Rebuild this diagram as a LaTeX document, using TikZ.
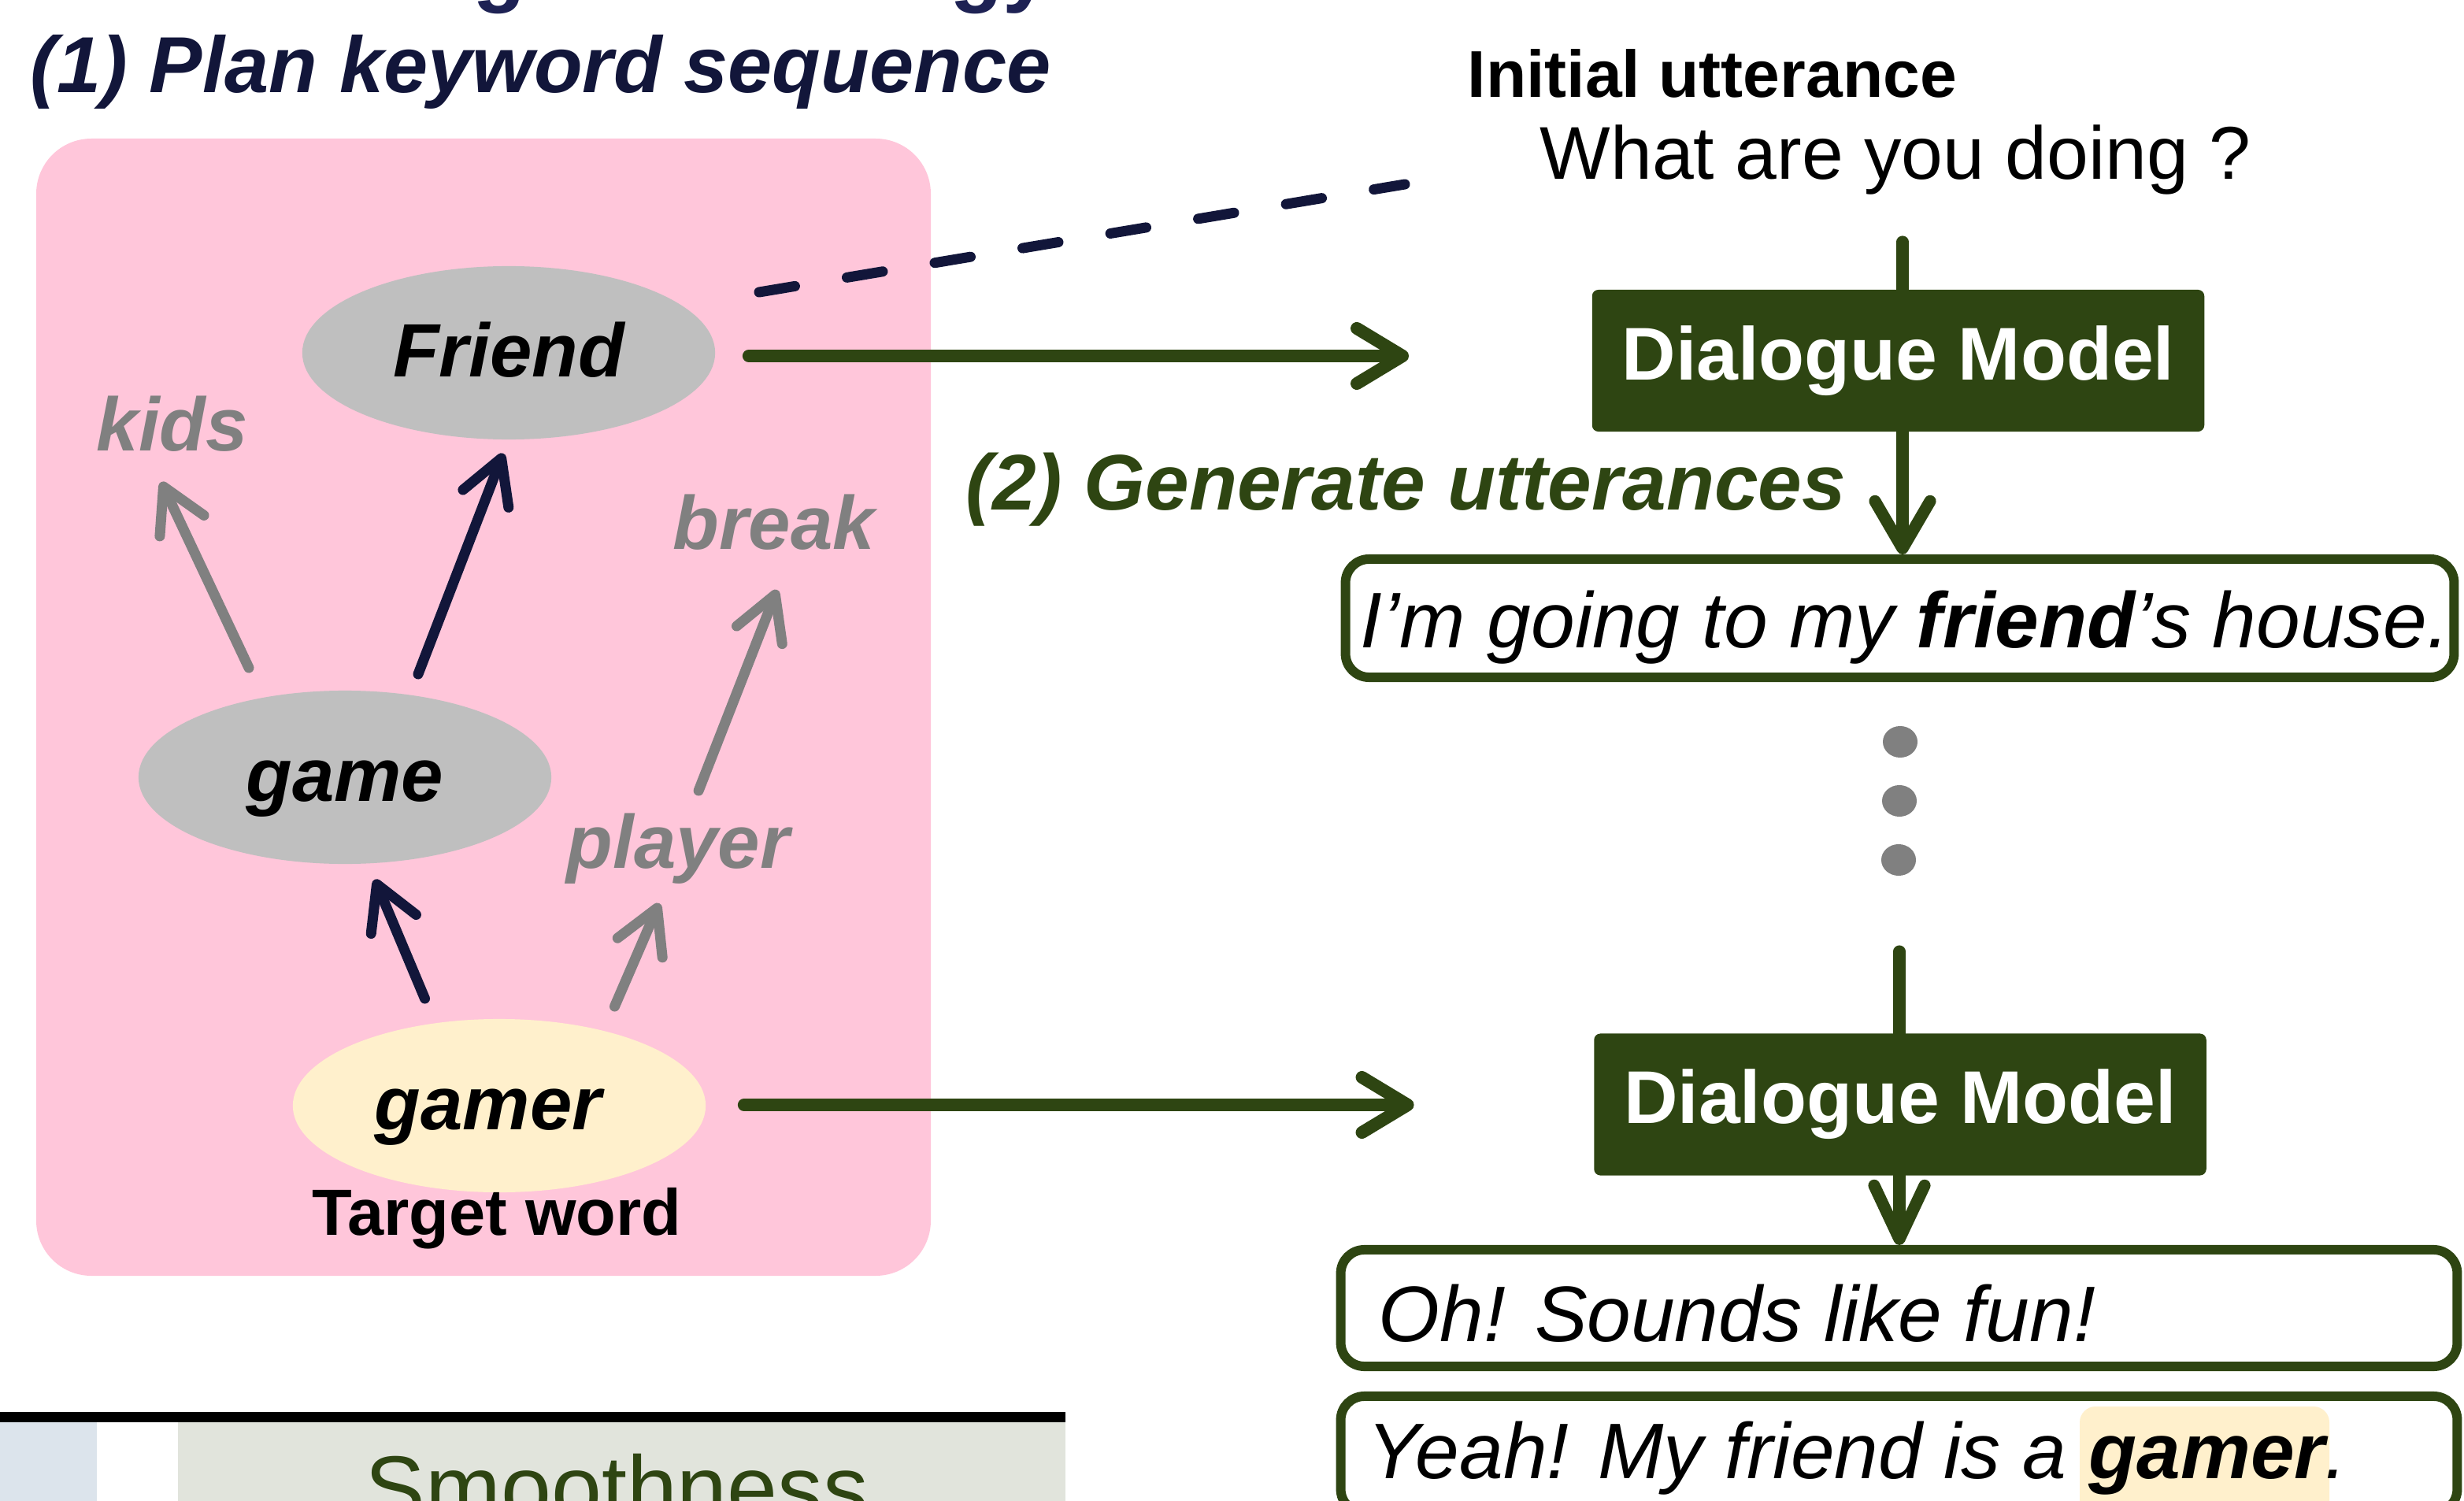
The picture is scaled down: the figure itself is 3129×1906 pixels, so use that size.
\documentclass[tikz,border=0pt]{standalone}
\usepackage{fontspec}
\setmainfont{Liberation Sans}
\usetikzlibrary{arrows.meta,shapes.geometric,calc}
\definecolor{navy}{RGB}{18,22,58}
\definecolor{titlenavy}{RGB}{30,34,84}
\definecolor{dgreen}{RGB}{46,69,18}
\definecolor{midgray}{RGB}{128,128,128}
\definecolor{ellgray}{RGB}{191,191,191}
\definecolor{cream}{RGB}{255,240,204}
\definecolor{pinkbg}{RGB}{255,198,218}
\definecolor{cellblue}{RGB}{220,228,236}
\definecolor{cellgreen}{RGB}{225,228,220}
\newcommand{\myfs}[1]{\fontsize{#1}{#1}\selectfont}
\begin{document}
\begin{tikzpicture}[x=0.01cm,y=-0.01cm,
  kw/.style={ellipse, minimum width=5.24cm, minimum height=2.2cm, inner sep=0pt,
    text height=0.6cm, text depth=0pt, font=\myfs{27.3}\bfseries\itshape},
  graylabel/.style={anchor=base west, inner sep=0pt, text=midgray, font=\myfs{27.3}\bfseries\itshape},
  plain/.style={anchor=base west, inner sep=0pt},
  navyarrow/.style={draw=navy, line width=3.7pt, line cap=round,
    -{Straight Barb[length=0.55cm,width=0.62cm,round]}},
  grayarrow/.style={draw=midgray, line width=3.7pt, line cap=round,
    -{Straight Barb[length=0.55cm,width=0.62cm,round]}},
  greenarrow/.style={draw=dgreen, line width=4.55pt, line cap=round,
    -{Straight Barb[length=0.58cm,width=0.7cm,round]}},
  dashline/.style={draw=navy, line width=3.7pt, line cap=round, dash pattern=on 0.46cm off 0.67cm},
  vline/.style={draw=dgreen, line width=4.3pt, line cap=round},
  dmbox/.style={fill=dgreen, rounded corners=0.08cm, minimum width=7.77cm, minimum height=1.8cm,
    inner sep=0pt, text=white, font=\myfs{27}\bfseries},
  uttbox/.style={draw=dgreen, line width=3.41pt, rounded corners=0.3cm, fill=white, inner sep=0pt},
  utttext/.style={anchor=base west, inner sep=0pt, font=\myfs{28.45}\itshape},
  dotnode/.style={ellipse, fill=midgray, minimum width=0.44cm, minimum height=0.4cm, inner sep=0pt}
]
\useasboundingbox (0,0) rectangle (3129,1906);
\clip (0,0) rectangle (3129,1906);

% title fragments (cut off at the top)
\node[plain, text=titlenavy, font=\myfs{31.3}\bfseries] (tfrag1) at (600,-5) {g};
\node[plain, text=titlenavy, font=\myfs{31.3}\bfseries] (tfrag2) at (1206,-5) {gy};

% heading 1
\node[plain, text=navy, font=\myfs{28.7}\bfseries\itshape] (head1) at (38,118) {(1) Plan keyword sequence};

% pink panel
\fill[pinkbg, rounded corners=0.7cm] (46,176) rectangle (1182,1620);

% keyword ellipses
\node[kw, fill=ellgray] (friend) at (646,448) {Friend};
\node[kw, fill=ellgray] (game) at (438,987) {game};
\node[kw, fill=cream] (gamer) at (634,1404) {gamer\hspace*{0.28cm}};
\node[anchor=base, inner sep=0pt, font=\myfs{23.6}\bfseries] (target) at (631,1568) {Target word};

% gray keywords
\node[graylabel] (kids) at (122,572) {kids};
\node[graylabel] (brk) at (854,697) {break};
\node[graylabel] (player) at (719,1102) {player};

% arrows in panel
\draw[navyarrow] ($(game.center)+(93,-131)$) -- ($(friend.south)+(-7,17)$);
\draw[navyarrow] ($(gamer.center)+(-94.5,-136)$) -- ($(game.south)+(38,19)$);
\draw[grayarrow] ($(game.center)+(-122,-139)$) -- ($(kids.base)+(-14,40)$);
\draw[grayarrow] ($(player.base)+(26,-98)$) -- ($(brk.base)+(4,52)$);
\draw[grayarrow] ($(gamer.center)+(146.5,-126)$) -- ($(player.base)+(-24,45)$);

% right side texts
\node[plain, font=\myfs{23.9}\bfseries] (initial) at (1863,124) {Initial utterance};
\node[plain, font=\myfs{27}] (what) at (1955,228) {What are you doing ?};
\node[plain, text=dgreen, font=\myfs{28.45}\bfseries\itshape] (head2) at (1226,647) {(2) Generate utterances};

% dialogue models
\node[dmbox] (dm1) at (2410.5,458) {Dialogue Model};
\node[dmbox] (dm2) at (2413,1402.5) {Dialogue Model};

% utterance boxes
\node[uttbox, minimum width=14.07cm, minimum height=1.5cm] (utt1) at (2412.5,785) {};
\node[utttext] (utt1t) at (1727,822) {I’m going to my \textbf{friend}’s house.};
\node[uttbox, minimum width=14.17cm, minimum height=1.48cm] (utt2) at (2411.5,1661) {};
\node[utttext] (utt2t) at (1750,1703) {Oh! Sounds like fun!};
\node[uttbox, minimum width=14.17cm, minimum height=1.48cm] (utt3) at (2411.5,1847) {};
\fill[cream, rounded corners=0.2cm] (2641,1786) rectangle (2958,1960);
\node[utttext] (utt3t) at (1736,1877) {Yeah! My friend is a \textbf{gamer}.};

% dots
\node[dotnode] (d1) at (2413,942) {};
\node[dotnode] (d2) at (2412,1017) {};
\node[dotnode] (d3) at (2411,1092) {};

% connectors on the right
\draw[dashline] ($(friend.center)+(318,-77)$) -- ($(what.base west)+(-171,6)$);
\draw[greenarrow] ($(friend.east)+(42,4)$) -- ($(dm1.west)+(-232,-6)$);
\draw[greenarrow] ($(gamer.east)+(48,-1)$) -- ($(dm2.west)+(-228,0.5)$);

\coordinate (in1) at (2416,307);
\draw[vline] (in1) -- (in1 |- dm1.north);
\draw[vline, -{Straight Barb[length=0.6cm,width=0.7cm,round]}] (dm1.south -| in1) -- (utt1.north -| in1);
\coordinate (in2) at (2412,1208);
\draw[vline] (in2) -- (in2 |- dm2.north);
\draw[vline, -{Straight Barb[length=0.68cm,width=0.64cm,round]}] (dm2.south -| in2) -- (utt2.north -| in2);

% bottom table fragment
\fill[black] (0,1793) rectangle (1353,1806);
\fill[cellblue] (0,1806) rectangle (123,1906);
\fill[cellgreen] (226,1806) rectangle (1353,1906);
\node[plain, text=dgreen, font=\myfs{32.7}] (smooth) at (463,1929) {Smoothness};
\end{tikzpicture}
\end{document}
